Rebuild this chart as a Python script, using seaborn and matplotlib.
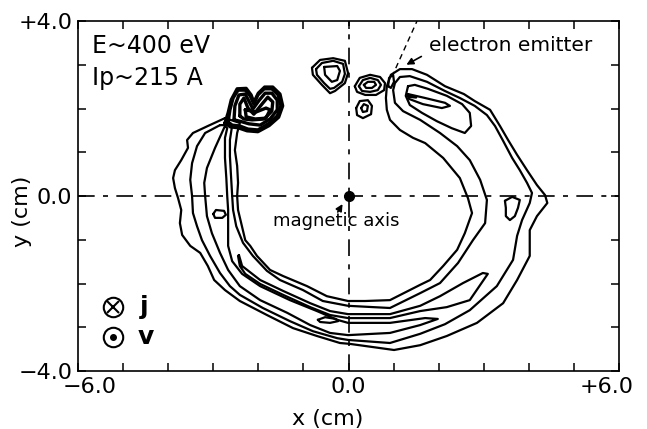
import matplotlib
matplotlib.use("Agg")
import matplotlib.pyplot as plt
import numpy as np
import pandas as pd
import seaborn as sns
from matplotlib.transforms import ScaledTranslation

# ---------------- data (cm) ----------------
band_level1 = [(-2.74,1.78),(-3.12,1.60),(-3.45,1.44),(-3.58,1.28),(-3.56,1.10),(-3.71,0.82),(-3.85,0.59),(-3.89,0.41),
    (-3.85,0.18),(-3.78,-0.05),(-3.71,-0.32),(-3.74,-0.62),(-3.69,-0.89),(-3.51,-1.14),(-3.29,-1.30),(-3.12,-1.60),
    (-2.98,-1.92),(-2.74,-2.15),(-2.41,-2.40),(-1.81,-2.72),(-1.23,-3.02),(-0.70,-3.20),(-0.19,-3.36),(0.03,-3.38),
    (1.01,-3.52),(1.59,-3.41),(2.18,-3.20),(2.85,-2.90),(3.43,-2.45),(3.74,-1.92),(4.02,-1.37),(4.02,-0.78),
    (4.18,-0.46),(4.41,-0.16),(4.36,0.02),(4.18,0.25),(3.96,0.59),(3.74,0.94),(3.54,1.28),(3.36,1.60),(3.14,1.97),
    (2.80,2.17),(2.56,2.33),(2.14,2.51),(1.74,2.77),(1.41,2.90),(1.14,2.90),(0.94,2.77),(0.85,2.51),(0.83,2.24),
    (0.85,1.97),(0.92,1.74),(1.14,1.51),(1.43,1.33),(1.70,1.21),(2.10,0.87),(2.47,0.41),(2.65,-0.05),(2.74,-0.39),
    (2.58,-0.85),(2.41,-1.23),(2.10,-1.60),(1.81,-1.92),(1.59,-2.03),(0.92,-2.38),(0.37,-2.40),(-0.01,-2.40),
    (-0.48,-2.29),(-0.92,-2.06),(-1.45,-1.83),(-1.74,-1.69),(-2.03,-1.37),(-2.18,-1.14),(-2.29,-1.01),(-2.38,-0.62),
    (-2.45,-0.32),(-2.47,0.00),(-2.45,0.30),(-2.47,0.69),(-2.52,1.05),(-2.47,1.44),(-2.41,1.67)]

band_level2 = [(-2.85,1.62),(-3.18,1.44),(-3.36,1.14),(-3.47,0.75),(-3.51,0.37),(-3.47,0.00),(-3.45,-0.39),(-3.36,-0.69),
    (-3.25,-1.01),(-3.07,-1.37),(-2.85,-1.76),(-2.63,-2.06),(-2.41,-2.26),(-1.90,-2.56),(-1.30,-2.86),(-0.79,-3.09),
    (-0.25,-3.25),(-0.01,-3.29),(0.92,-3.36),(1.59,-3.15),(2.14,-2.93),(2.69,-2.61),(3.29,-2.06),(3.65,-1.46),
    (3.74,-0.91),(3.85,-0.55),(4.02,-0.16),(4.07,0.07),(3.96,0.30),(3.80,0.59),(3.63,0.87),(3.43,1.26),(3.25,1.60),
    (3.07,1.85),(2.80,2.06),(2.47,2.24),(2.14,2.40),(1.74,2.61),(1.36,2.74),(1.14,2.72),(1.03,2.58),(0.99,2.42),
    (1.03,2.13),(1.21,1.94),(1.59,1.74),(2.03,1.44),(2.41,1.14),(2.69,0.82),(2.92,0.37),(3.07,-0.09),(3.03,-0.62),
    (2.76,-1.01),(2.43,-1.53),(2.03,-1.99),(1.59,-2.22),(0.92,-2.56),(-0.01,-2.51),(-0.57,-2.40),(-1.01,-2.15),
    (-1.52,-1.92),(-1.81,-1.71),(-2.12,-1.37),(-2.34,-1.07),(-2.49,-0.69),(-2.56,-0.32),(-2.58,0.00),(-2.61,0.53),
    (-2.63,0.91),(-2.63,1.28),(-2.58,1.62)]

band_level3 = [(-2.74,1.60),(-2.96,1.10),(-3.14,0.64),(-3.20,0.30),(-3.18,0.00),(-3.14,-0.46),(-3.03,-0.85),(-2.85,-1.30),
    (-2.67,-1.69),(-2.41,-2.06),(-1.96,-2.38),(-1.36,-2.67),(-0.85,-2.95),(-0.41,-3.13),(-0.01,-3.18),(0.92,-3.13),
    (1.59,-2.95),(1.98,-2.81),(1.70,-2.79),(0.92,-2.90),(-0.01,-2.90),(-0.25,-2.83),(-0.70,-2.63),(-1.30,-2.38),
    (-1.96,-2.06),(-2.36,-1.78),(-2.58,-1.49),(-2.67,-1.14),(-2.67,-0.73),(-2.67,-0.32),(-2.69,0.00),(-2.71,0.41),
    (-2.74,0.87),(-2.74,1.33),(-2.69,1.55)]

band_level4 = [(-2.43,-1.35),(-2.36,-1.60),(-1.96,-1.92),(-1.45,-2.17),(-0.85,-2.45),(-0.41,-2.63),(-0.01,-2.70),
    (0.92,-2.70),(1.59,-2.51),(2.03,-2.29),(2.54,-1.99),(2.98,-1.76),(3.09,-1.78),(2.69,-2.38),(2.18,-2.54),
    (1.59,-2.63),(0.92,-2.79),(-0.01,-2.79),(-0.41,-2.72),(-0.85,-2.54),(-1.45,-2.26),(-1.96,-2.01),(-2.29,-1.78),
    (-2.41,-1.60),(-2.45,-1.37)]

blob_ring1 = [(-2.74,1.67),(-2.67,1.90),(-2.60,2.20),(-2.47,2.45),(-2.27,2.46),(-2.16,2.31),(-2.10,2.14),(-2.00,2.35),
    (-1.86,2.49),(-1.68,2.49),(-1.52,2.33),(-1.46,2.06),(-1.55,1.80),(-1.76,1.61),(-2.01,1.47),(-2.25,1.49),
    (-2.45,1.56),(-2.62,1.58)]
blob_ring2 = [(-2.67,1.69),(-2.63,1.97),(-2.56,2.24),(-2.45,2.42),(-2.29,2.42),(-2.18,2.29),(-2.10,2.10),(-2.01,2.31),
    (-1.87,2.45),(-1.70,2.45),(-1.56,2.31),(-1.50,2.06),(-1.58,1.83),(-1.78,1.65),(-2.01,1.51),(-2.23,1.53),
    (-2.41,1.60),(-2.58,1.62)]
blob_ring3 = [(-2.54,1.74),(-2.52,2.06),(-2.43,2.31),(-2.29,2.33),(-2.21,2.17),(-2.12,1.99),(-1.98,2.19),(-1.85,2.35),
    (-1.70,2.35),(-1.58,2.19),(-1.58,1.97),(-1.74,1.76),(-1.96,1.62),(-2.21,1.65),(-2.41,1.71)]
blob_ring4 = [(-2.41,1.83),(-2.41,2.10),(-2.32,2.24),(-2.23,2.01),(-2.10,1.87),(-1.92,2.10),(-1.79,2.26),(-1.68,2.15),
    (-1.70,1.94),(-1.87,1.76),(-2.14,1.74),(-2.32,1.76)]
blob_ring5 = [(-2.29,1.97),(-2.05,1.92),(-1.83,2.01),(-1.74,1.97),(-1.83,1.78),(-2.07,1.76),(-2.27,1.81)]

top_island_outer = [(-0.81,2.93),(-0.63,3.11),(-0.34,3.15),(-0.08,3.09),(-0.01,2.81),(-0.08,2.58),(-0.30,2.40),
    (-0.41,2.35),(-0.59,2.54),(-0.79,2.77)]
top_island_mid = [(-0.72,2.90),(-0.59,3.04),(-0.34,3.09),(-0.12,3.02),(-0.08,2.79),(-0.14,2.61),(-0.32,2.47),
    (-0.41,2.45),(-0.54,2.58),(-0.70,2.77)]
top_island_inner = [(-0.54,2.95),(-0.25,2.97),(-0.19,2.86),(-0.25,2.65),(-0.37,2.61),(-0.52,2.77)]

oval_outer = [(0.14,2.51),(0.25,2.70),(0.48,2.77),(0.70,2.72),(0.81,2.58),(0.79,2.42),(0.61,2.31),(0.37,2.31),(0.19,2.38)]
oval_mid = [(0.23,2.51),(0.32,2.65),(0.48,2.70),(0.65,2.65),(0.72,2.54),(0.65,2.42),(0.48,2.38),(0.30,2.40)]
oval_inner = [(0.34,2.54),(0.43,2.61),(0.57,2.61),(0.61,2.54),(0.52,2.47),(0.39,2.47)]

small_outer = [(0.17,2.01),(0.25,2.17),(0.43,2.19),(0.52,2.06),(0.50,1.87),(0.32,1.78),(0.19,1.85)]
small_inner = [(0.28,2.01),(0.34,2.10),(0.43,2.06),(0.41,1.94),(0.32,1.92)]

emitter_loop = [(0.88,2.51),(0.90,2.70),(0.99,2.77),(1.01,2.61),(0.94,2.47)]

arm_top_loop = [(1.32,2.51),(1.27,2.29),(1.36,2.08),(1.63,1.90),(1.96,1.71),(2.29,1.55),(2.58,1.44),(2.72,1.60),
    (2.69,1.90),(2.52,2.10),(2.18,2.29),(1.76,2.45),(1.47,2.54)]
arm_top_sliver = [(1.32,2.33),(1.70,2.24),(2.14,2.13),(2.25,2.06),(2.07,2.01),(1.65,2.10),(1.34,2.22)]
arm_top_dash = [(1.32,2.29),(1.50,2.28),(1.50,2.25),(1.32,2.27)]

right_island = [(3.47,-0.11),(3.63,-0.02),(3.80,-0.09),(3.76,-0.27),(3.69,-0.46),(3.58,-0.55),(3.49,-0.46),(3.49,-0.27)]
left_island = [(-3.00,-0.41),(-2.94,-0.32),(-2.76,-0.34),(-2.72,-0.43),(-2.80,-0.50),(-2.96,-0.50)]
bottom_island = [(-0.68,-2.83),(-0.52,-2.77),(-0.28,-2.81),(-0.23,-2.86),(-0.41,-2.90),(-0.63,-2.88)]

contours = {
    "band_level1": band_level1, "band_level2": band_level2, "band_level3": band_level3, "band_level4": band_level4,
    "top_island_outer": top_island_outer, "top_island_mid": top_island_mid, "top_island_inner": top_island_inner,
    "oval_outer": oval_outer, "oval_mid": oval_mid, "oval_inner": oval_inner,
    "small_outer": small_outer, "small_inner": small_inner, "emitter_loop": emitter_loop,
    "arm_top_loop": arm_top_loop, "arm_top_sliver": arm_top_sliver, "arm_top_dash": arm_top_dash,
    "right_island": right_island, "left_island": left_island, "bottom_island": bottom_island,
}
blob = {"blob_ring1": blob_ring1, "blob_ring2": blob_ring2, "blob_ring3": blob_ring3,
        "blob_ring4": blob_ring4, "blob_ring5": blob_ring5}

x_ticks = list(range(-6, 7))
y_ticks = list(range(-4, 5))
x_tick_labels = {-6: "\u22126.0", 0: "0.0", 6: "+6.0"}
y_tick_labels = {-4: "\u22124.0", 0: "0.0", 4: "+4.0"}

magnetic_axis = (0.0, 0.0)
emitter_probe = [(0.96, 2.72), (1.52, 4.0)]


def to_frame(d):
    rows = []
    for name, pts in d.items():
        closed = list(pts) + [pts[0]]
        for i, (x, y) in enumerate(closed):
            rows.append({"cid": name, "order": i, "x": x, "y": y})
    return pd.DataFrame(rows)


df_c = to_frame(contours)
df_b = to_frame(blob)

# ---------------- figure ----------------
sns.set_style("ticks")
plt.rcParams["font.family"] = ["DejaVu Sans"]
plt.rcParams["text.color"] = "black"
plt.rcParams["axes.labelcolor"] = "black"
plt.rcParams["xtick.color"] = "black"
plt.rcParams["ytick.color"] = "black"
fig = plt.figure(figsize=(6.47, 4.29), dpi=100)
ax = fig.add_axes([78/647, 1-371/429, (619-78)/647, (371-21)/429])

sns.lineplot(data=df_c, x="x", y="y", units="cid", estimator=None, sort=False,
             color="black", linewidth=1.6, legend=False, ax=ax)
sns.lineplot(data=df_b, x="x", y="y", units="cid", estimator=None, sort=False,
             color="black", linewidth=2.4, legend=False, ax=ax)
for ln in ax.lines:
    ln.set_solid_joinstyle("round")
    ln.set_solid_capstyle("round")

# reference lines through magnetic axis
ax.axhline(magnetic_axis[1], color="black", lw=1.2, ls=(0, (10, 5, 3, 5)), zorder=1)
ax.axvline(magnetic_axis[0], color="black", lw=1.2, ls=(0, (10, 5, 3, 5)), zorder=1)
ax.plot([magnetic_axis[0]], [magnetic_axis[1]], "o", color="black", ms=7, zorder=5)

# emitter probe dashed line
ax.plot([p[0] for p in emitter_probe], [p[1] for p in emitter_probe], color="black",
        lw=1.0, ls=(0, (4, 3)))

ax.set_xlim(-6, 6)
ax.set_ylim(-4, 4)
ax.set_xticks(x_ticks)
ax.set_xticklabels([x_tick_labels.get(t, "") for t in x_ticks])
ax.set_yticks(y_ticks)
ax.set_yticklabels([y_tick_labels.get(t, "") for t in y_ticks])
ax.tick_params(direction="in", length=6, width=1.1, top=True, right=True,
               labelsize=16, pad=4, colors="black")
for sp in ax.spines.values():
    sp.set_visible(True)
    sp.set_linewidth(1.2)
    sp.set_color("black")

# shift outer x tick labels inward like the reference
ticks = ax.xaxis.get_major_ticks()
ticks[0].label1.set_transform(ticks[0].label1.get_transform() + ScaledTranslation(12/100, 0, fig.dpi_scale_trans))
ticks[-1].label1.set_transform(ticks[-1].label1.get_transform() + ScaledTranslation(-12/100, 0, fig.dpi_scale_trans))

ax.set_xlabel("x (cm)", fontsize=16)
ax.set_ylabel("y (cm)", fontsize=16)
ax.xaxis.set_label_coords(0.462, -0.108)
ax.yaxis.set_label_coords(-0.085, 0.455)

# annotations
ax.text(-5.68, 3.43, "E~400 eV", fontsize=17, va="center", ha="left")
ax.text(-5.68, 2.70, "Ip~215 A", fontsize=17, va="center", ha="left")
ax.text(1.78, 3.43, "electron emitter", fontsize=14.5, va="center", ha="left")
ax.annotate("", xy=(1.23, 2.97), xytext=(1.67, 3.22),
            arrowprops=dict(arrowstyle="-|>", color="black", lw=1.2, mutation_scale=10))
ax.text(-0.27, -0.58, "magnetic axis", fontsize=13, va="center", ha="center")
ax.annotate("", xy=(-0.10, -0.13), xytext=(-0.27, -0.42),
            arrowprops=dict(arrowstyle="-|>", color="black", lw=1.2, mutation_scale=10))

# j and v symbols
ax.plot([-5.22], [-2.54], "o", ms=14, mfc="none", mec="black", mew=1.5)
ax.plot([-5.22], [-2.54], "x", ms=8, color="black", mew=1.5)
ax.plot([-5.22], [-3.22], "o", ms=14, mfc="none", mec="black", mew=1.5)
ax.plot([-5.22], [-3.22], "o", ms=4, color="black")
ax.text(-4.53, -2.54, "j", fontsize=18, fontweight="bold", va="center", ha="center")
ax.text(-4.49, -3.22, "v", fontsize=18, fontweight="bold", va="center", ha="center")

fig.savefig("out.png", dpi=100, facecolor="white")
